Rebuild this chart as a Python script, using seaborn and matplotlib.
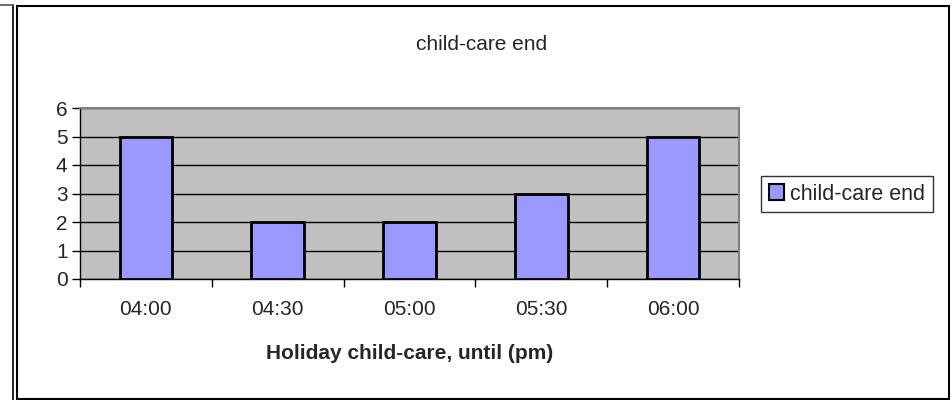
import pandas as pd
import seaborn as sns
import matplotlib
matplotlib.use("Agg")
from matplotlib import pyplot as plt
from matplotlib.patches import Rectangle
from matplotlib.lines import Line2D
import numpy as np

# data
times = ["04:00", "04:30", "05:00", "05:30", "06:00"]
counts = [5, 2, 2, 3, 5]
series_name = "child-care end"
x_title = "Holiday child-care, until (pm)"

df = pd.DataFrame({"time": times, "count": counts})

sns.set_style("white")
plt.rcParams['font.family'] = ['Liberation Sans', 'DejaVu Sans']

W, H = 952, 400
fig = plt.figure(figsize=(W / 100, H / 100), dpi=100)

# pixel coords -> figure coords
def fx(px):
    return px / W

def fy(py):
    return 1 - py / H

# outer frames
fig.add_artist(Line2D([fx(13), fx(13)], [fy(5), fy(400)], color="black", lw=1.2))
fig.add_artist(Line2D([fx(0), fx(13)], [fy(5), fy(5)], color="#555555", lw=1.2))
fig.add_artist(Rectangle((fx(16.5), fy(398.5)), fx(949) - fx(16.5), fy(6) - fy(398.5),
                         fill=False, edgecolor="black", lw=1.5))

ax = fig.add_axes([fx(80), fy(279), fx(739) - fx(80), fy(108) - fy(279)])
ax.set_facecolor("#C0C0C0")

sns.barplot(data=df, x="time", y="count", color="#9999FF", edgecolor="black",
            linewidth=2, width=0.4, saturation=1, ax=ax, zorder=3)

ax.set_ylim(0, 6)
ax.set_xlim(-0.5, len(times) - 0.5)
ax.set_yticks(range(0, 7))
ax.yaxis.grid(True, color="black", lw=1)
ax.set_axisbelow(True)
for s in ax.spines.values():
    s.set_color("#808080")
    s.set_linewidth(1.5)
ax.spines["left"].set_color("black")
ax.spines["left"].set_linewidth(1)
ax.spines["bottom"].set_color("black")
ax.spines["bottom"].set_linewidth(1)

ax.tick_params(axis="y", length=6, width=1, color="black", labelsize=15, pad=3, left=True)
ax.tick_params(axis="x", which="major", length=0, labelsize=15, pad=15)
ax.set_xticks(np.arange(-0.5, len(times)), minor=True)
ax.tick_params(axis="x", which="minor", length=6, width=1, color="black", bottom=True)

ax.set_xlabel(x_title, fontsize=15, fontweight="bold", labelpad=18)
ax.set_ylabel("")

fig.text(fx(482), fy(44), series_name, ha="center", va="center", fontsize=15)

handle = Rectangle((0, 0), 1, 1, facecolor="#9999FF", edgecolor="black", lw=1.5)
leg = fig.legend([handle], [series_name], loc="center left",
                 bbox_to_anchor=(fx(761), fy(194)), frameon=True, fancybox=False,
                 fontsize=15.5, handlelength=0.7, handleheight=0.7, handletextpad=0.3,
                 borderpad=0.35, borderaxespad=0)
leg.get_frame().set_edgecolor("black")
leg.get_frame().set_linewidth(1)

fig.savefig("out.png", dpi=100)
